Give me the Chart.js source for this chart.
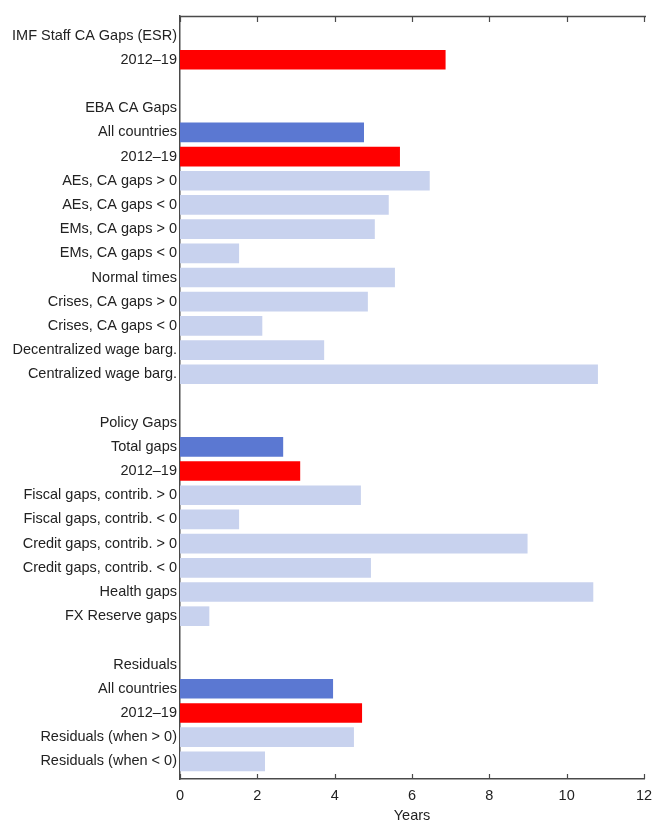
<!DOCTYPE html>
<html>
<head>
<meta charset="utf-8">
<script src="https://cdn.jsdelivr.net/npm/chart.js@4/dist/chart.umd.min.js"></script>
<style>
html,body{margin:0;padding:0;background:#fff;}
#wrap{width:654px;height:821px;position:relative;}
</style>
</head>
<body>
<div id="wrap"><canvas id="c" width="654" height="821"></canvas></div>
<script>
const categories = [
  "IMF Staff CA Gaps (ESR)", "2012\u201319", "",
  "EBA CA Gaps", "All countries", "2012\u201319",
  "AEs, CA gaps > 0", "AEs, CA gaps < 0", "EMs, CA gaps > 0", "EMs, CA gaps < 0",
  "Normal times", "Crises, CA gaps > 0", "Crises, CA gaps < 0",
  "Decentralized wage barg.", "Centralized wage barg.", "",
  "Policy Gaps", "Total gaps", "2012\u201319",
  "Fiscal gaps, contrib. > 0", "Fiscal gaps, contrib. < 0",
  "Credit gaps, contrib. > 0", "Credit gaps, contrib. < 0",
  "Health gaps", "FX Reserve gaps", "",
  "Residuals", "All countries", "2012\u201319",
  "Residuals (when > 0)", "Residuals (when < 0)"
];
const values = [
  null, 6.86, null,
  null, 4.75, 5.68,
  6.45, 5.39, 5.03, 1.52,
  5.55, 4.85, 2.12,
  3.72, 10.80, null,
  null, 2.66, 3.10,
  4.67, 1.52,
  8.98, 4.93,
  10.68, 0.75, null,
  null, 3.95, 4.70,
  4.49, 2.19
];
const kinds = [
  "", "recent", "",
  "", "all", "recent",
  "sub", "sub", "sub", "sub",
  "sub", "sub", "sub",
  "sub", "sub", "",
  "", "all", "recent",
  "sub", "sub",
  "sub", "sub",
  "sub", "sub", "",
  "", "all", "recent",
  "sub", "sub"
];
const xTicks = [0, 2, 4, 6, 8, 10, 12];

const colorOf = {all: "#5b78d2", recent: "#ff0000", sub: "#c8d2ee"};
const points = [];
const colors = [];
values.forEach((v, i) => {
  if (v !== null) { points.push({x: v, y: i}); colors.push(colorOf[kinds[i]]); }
});

const FAM = "'Liberation Sans', Arial, sans-serif";
const FS = 14.5;
const AXIS = "#4a4a4a";
const frame = {
  id: "frame",
  afterDraw(chart) {
    const ctx = chart.ctx, a = chart.chartArea, xs = chart.scales.x;
    ctx.save();
    ctx.strokeStyle = AXIS;
    ctx.lineWidth = 1.5;
    ctx.beginPath();
    ctx.moveTo(a.left, a.top + 0.5);
    ctx.lineTo(a.right + 2, a.top + 0.5);
    ctx.stroke();
    ctx.lineWidth = 1.2;
    xTicks.forEach(t => {
      const px = Math.round(xs.getPixelForValue(t)) + 0.5;
      ctx.beginPath();
      ctx.moveTo(px, a.bottom);
      ctx.lineTo(px, a.bottom - 5);
      ctx.moveTo(px, a.top);
      ctx.lineTo(px, a.top + 6);
      ctx.stroke();
    });
    ctx.restore();
  }
};

new Chart(document.getElementById("c"), {
  type: "bar",
  data: {
    datasets: [{
      data: points,
      backgroundColor: colors,
      borderWidth: 0,
      barThickness: 19
    }]
  },
  options: {
    indexAxis: "y",
    responsive: false,
    animation: false,
    devicePixelRatio: 1,
    layout: {padding: {top: 16, right: 0, bottom: 0, left: 0}},
    plugins: {legend: {display: false}, tooltip: {enabled: false}},
    scales: {
      x: {
        type: "linear",
        min: 0, max: 12,
        afterBuildTicks(s) { s.ticks = xTicks.map(v => ({value: v})); },
        afterFit(s) { s.height = 42; s.paddingRight = 10; },
        grid: {display: false, drawTicks: false},
        border: {display: true, color: AXIS, width: 1.5},
        ticks: {padding: 8, color: "#222", font: {family: FAM, size: FS}},
        title: {display: true, text: "Years", color: "#222", padding: {top: 2, bottom: -4},
                font: {family: FAM, size: FS}}
      },
      y: {
        type: "linear",
        reverse: true,
        offset: false,
        min: -0.81, max: 30.73,
        afterBuildTicks(s) { s.ticks = categories.map((c, i) => ({value: i})); },
        afterFit(s) { s.width = 180; },
        grid: {display: false, drawTicks: false, offset: false},
        border: {display: true, color: AXIS, width: 1.5},
        ticks: {
          padding: 3, autoSkip: false, color: "#222",
          font: {family: FAM, size: FS},
          callback: (v) => categories[v] !== undefined ? categories[v] : ""
        }
      }
    }
  },
  plugins: [frame]
});
</script>
</body>
</html>
